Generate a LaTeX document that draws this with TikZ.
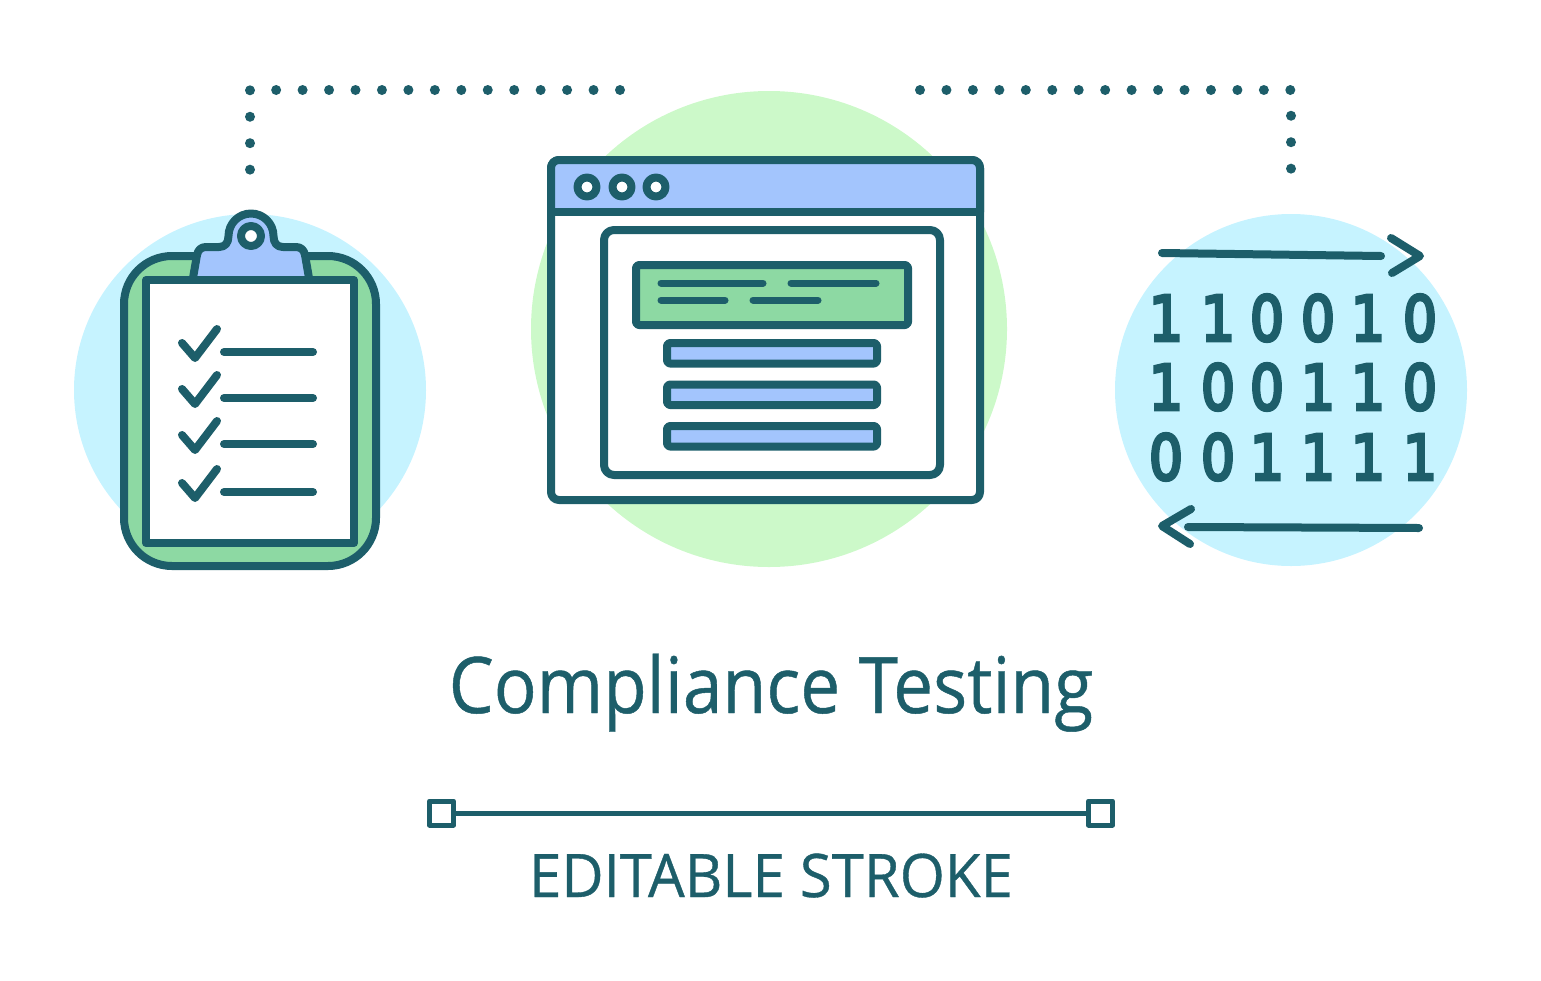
\documentclass[tikz,border=0pt]{standalone}
\usepackage{fontspec}
\setmainfont[RawFeature={embolden=0.6}]{Open Sans}
\newfontfamily\digitfont[RawFeature={embolden=5.5}]{DejaVu Sans}
\definecolor{inkteal}{HTML}{1D5E6A}
\definecolor{skyback}{HTML}{C6F3FF}
\definecolor{mintback}{HTML}{CCF9C9}
\definecolor{leaf}{HTML}{8DD9A3}
\definecolor{bluefill}{HTML}{A3C5FD}
\tikzset{
  icon/.style={draw=inkteal, line width=8pt, line join=round, line cap=round},
  thinbar/.style={draw=inkteal, line width=7pt, line cap=round},
  dotline/.style={draw=inkteal, line width=10pt, line cap=round, dash pattern=on 0pt off 26.45pt},
  digit/.style={text=inkteal, inner sep=0pt, font=\digitfont\fontsize{62}{62}\selectfont, xscale=0.86},
  handlebox/.style={draw=inkteal, fill=white, line width=5pt, line join=round, minimum size=24pt, inner sep=0pt}
}
\begin{document}
\begin{tikzpicture}[x=1pt, y=-1pt]
\useasboundingbox (0,0) rectangle (1541,980);
% background discs
\fill[skyback] (250,390) circle (176);
\fill[skyback] (1291,390) circle (176);
\fill[mintback] (769,329) circle (238);
% dotted connectors
\coordinate (leftstart) at (620,90);
\coordinate (leftcorner) at (250,90);
\coordinate (leftend) at (250,170);
\coordinate (rightstart) at (920,90);
\coordinate (rightcorner) at (1291,90);
\coordinate (rightend) at (1291,170);
\draw[dotline] (leftstart) -- (leftcorner) -- (leftend);
\draw[dotline] (rightstart) -- (rightcorner) -- (rightend);
% clipboard
\draw[icon, fill=leaf, rounded corners=48pt] (124,256) rectangle (376,566);
\draw[icon, fill=bluefill] (193,278) -- (197,255) .. controls (198,250) and (201,247) .. (206,247) -- (219,247)
  .. controls (225,247) and (228.5,243) .. (228.5,236) arc (180:360:22.5)
  .. controls (273.5,243) and (277,247) .. (283,247) -- (296,247)
  .. controls (301,247) and (304,250) .. (305,255) -- (309,278);
\draw[icon, fill=white] (251,236) circle (10);
\draw[icon, fill=white] (146,280) rectangle (354,543);
\foreach \rowy in {352,398,444,492} {
  \draw[icon] (182,\rowy-9) -- (195,\rowy+6) -- (217,\rowy-23);
  \draw[icon] (224,\rowy) -- (313,\rowy);
}
% browser window
\draw[icon, fill=white, rounded corners=8pt] (551,160) rectangle (980,500);
\path[fill=bluefill, rounded corners=6pt] (551,212) -- (551,160) -- (980,160) -- (980,212) [sharp corners] -- cycle;
\draw[icon, rounded corners=8pt] (551,212) -- (551,160) -- (980,160) -- (980,212);
\draw[icon] (551,212) -- (980,212);
\foreach \dotx in {587,622,656}
  \draw[icon, fill=white] (\dotx,187) circle (9.5);
\draw[icon, rounded corners=10pt] (604,230) rectangle (940,475);
\draw[icon, fill=leaf, rounded corners=3pt] (636,265) rectangle (908,325);
\foreach \fromx/\tox/\bary in {661/763/283,791/876/283,661/725/300,753/818/300}
  \draw[thinbar] (\fromx,\bary) -- (\tox,\bary);
\foreach \bary in {343,384.5,426}
  \draw[icon, fill=bluefill, rounded corners=3pt] (667,\bary) rectangle (877,\bary+20.5);
% binary block
\draw[icon] (1162,253) -- (1381,256);
\draw[icon] (1391,238) -- (1420,256) -- (1392,273);
\draw[icon] (1188,527) -- (1419,528);
\draw[icon] (1191,509) -- (1162,526) -- (1190,544);
\foreach \bit [count=\c] in {1,1,0,0,1,0,1,0,0,1,1,0,0,0,1,1,1,1} {
  \pgfmathsetmacro{\colx}{{1166,1218,1267,1318,1368,1420}[mod(\c-1,6)]}
  \pgfmathsetmacro{\rowy}{{318,387,457}[int((\c-1)/6)]}
  \node[digit] (bit\c) at (\colx,\rowy) {\bit};
}
% caption
\node[text=inkteal, anchor=base, inner sep=0pt, font=\fontsize{78}{78}\selectfont, xscale=0.914] (title) at (771,713) {Compliance Testing};
\node[handlebox] (handleleft) at (441.5,813) {};
\node[handlebox] (handleright) at (1100.5,813) {};
\draw[draw=inkteal, line width=5pt] (handleleft) -- (handleright);
\node[text=inkteal, anchor=base, inner sep=0pt, font=\fontsize{60}{60}\selectfont, xscale=0.968] (subtitle) at (771,897) {EDITABLE STROKE};
\end{tikzpicture}
\end{document}
